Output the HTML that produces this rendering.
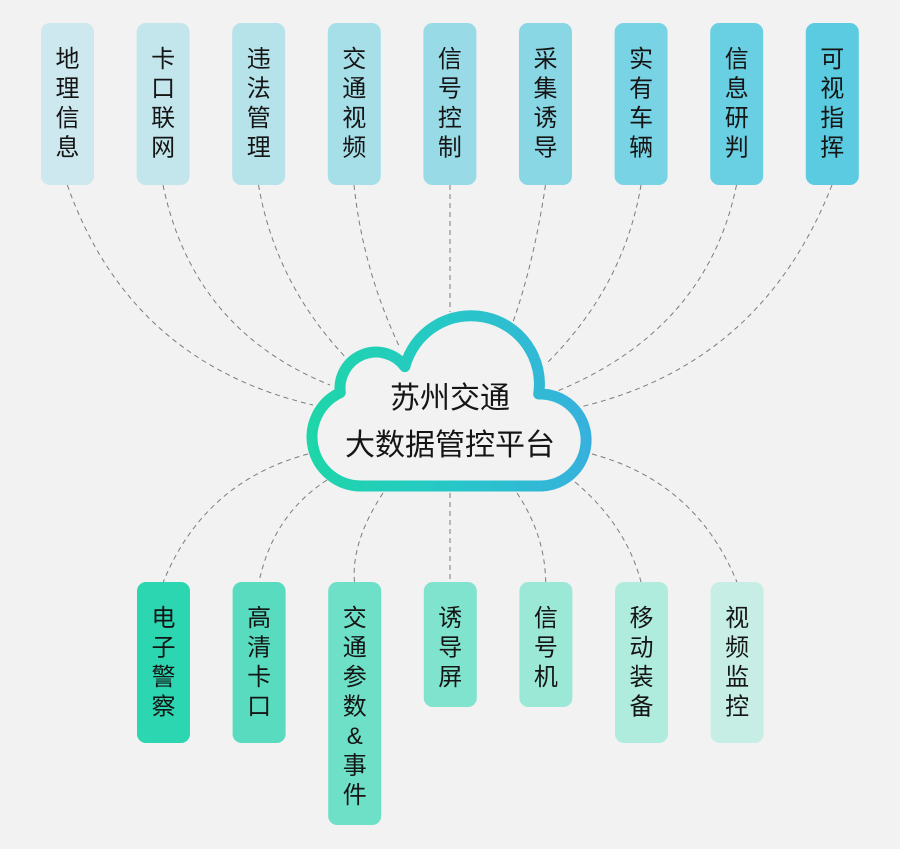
<!DOCTYPE html>
<html>
<head>
<meta charset="utf-8">
<style>
  html, body { margin: 0; padding: 0; background: #f2f2f2; }
  body { width: 900px; height: 849px; overflow: hidden; }
  svg { display: block; }
  .t { font-family: "Liberation Sans", "Noto Sans CJK SC", sans-serif; font-size: 24px; fill: #151515; text-anchor: middle; }
  .c { font-family: "Liberation Sans", "Noto Sans CJK SC", sans-serif; font-size: 30px; fill: #151515; text-anchor: middle; }
  .ln { fill: none; stroke: #7c7c7c; stroke-width: 1; stroke-dasharray: 5 4; }
</style>
</head>
<body>
<svg width="900" height="849" viewBox="0 0 900 849" xmlns="http://www.w3.org/2000/svg">
  <defs>
    <linearGradient id="cg" gradientUnits="userSpaceOnUse" x1="307" y1="0" x2="595" y2="0">
      <stop offset="0" stop-color="#1dd6a8"/>
      <stop offset="0.5" stop-color="#27c7c8"/>
      <stop offset="1" stop-color="#37b0de"/>
    </linearGradient>
  </defs>
  <rect x="0" y="0" width="900" height="849" fill="#f2f2f2"/>

  <!-- connectors top -->
  <path class="ln" d="M67.3,185 Q130,362 313,405"/>
  <path class="ln" d="M163,185 Q193,330 330,385"/>
  <path class="ln" d="M258.5,185 Q276,286 350,362"/>
  <path class="ln" d="M354,185 Q363,270 400,348"/>
  <path class="ln" d="M450,185 L450,312"/>
  <path class="ln" d="M545.5,185 Q534,262 513,322"/>
  <path class="ln" d="M641,185 Q624,286 548,362"/>
  <path class="ln" d="M736.5,185 Q707,330 555,392"/>
  <path class="ln" d="M832,185 Q762,364 580,407"/>

  <!-- connectors bottom -->
  <path class="ln" d="M308,454 Q204,482 163.3,582"/>
  <path class="ln" d="M327,480 Q273,515 259,582"/>
  <path class="ln" d="M383,493 Q351,542 354.5,582"/>
  <path class="ln" d="M450,493 L450,582"/>
  <path class="ln" d="M517,493 Q545,535 545.7,582"/>
  <path class="ln" d="M575,482 Q626,525 641,582"/>
  <path class="ln" d="M592,454 Q696,482 736.9,582"/>

  <!-- cloud -->
  <path d="M361,486 A49,49 0 0 1 340.3,392.6 A36,36 0 0 1 404.9,366.6 A68.4,68.4 0 0 1 538.7,394 A46,46 0 1 1 541.5,486 Z"
        fill="#f2f2f2" stroke="url(#cg)" stroke-width="11" stroke-linejoin="round"/>
  <text class="c" x="450" y="408">苏州交通</text>
  <text class="c" x="450" y="455">大数据管控平台</text>

  <!-- top boxes -->
  <g>
    <rect x="41" y="23" width="53" height="162" rx="9" fill="#cde8ee"/>
    <text class="t" x="67.5" y="67">地</text><text class="t" x="67.5" y="96.5">理</text><text class="t" x="67.5" y="126">信</text><text class="t" x="67.5" y="155.5">息</text>

    <rect x="136.6" y="23" width="53" height="162" rx="9" fill="#c3e6ed"/>
    <text class="t" x="163.1" y="67">卡</text><text class="t" x="163.1" y="96.5">口</text><text class="t" x="163.1" y="126">联</text><text class="t" x="163.1" y="155.5">网</text>

    <rect x="232.2" y="23" width="53" height="162" rx="9" fill="#b6e2ea"/>
    <text class="t" x="258.7" y="67">违</text><text class="t" x="258.7" y="96.5">法</text><text class="t" x="258.7" y="126">管</text><text class="t" x="258.7" y="155.5">理</text>

    <rect x="327.8" y="23" width="53" height="162" rx="9" fill="#a7dfe9"/>
    <text class="t" x="354.3" y="67">交</text><text class="t" x="354.3" y="96.5">通</text><text class="t" x="354.3" y="126">视</text><text class="t" x="354.3" y="155.5">频</text>

    <rect x="423.4" y="23" width="53" height="162" rx="9" fill="#98dbe7"/>
    <text class="t" x="449.9" y="67">信</text><text class="t" x="449.9" y="96.5">号</text><text class="t" x="449.9" y="126">控</text><text class="t" x="449.9" y="155.5">制</text>

    <rect x="519" y="23" width="53" height="162" rx="9" fill="#89d7e5"/>
    <text class="t" x="545.5" y="67">采</text><text class="t" x="545.5" y="96.5">集</text><text class="t" x="545.5" y="126">诱</text><text class="t" x="545.5" y="155.5">导</text>

    <rect x="614.6" y="23" width="53" height="162" rx="9" fill="#78d3e4"/>
    <text class="t" x="641.1" y="67">实</text><text class="t" x="641.1" y="96.5">有</text><text class="t" x="641.1" y="126">车</text><text class="t" x="641.1" y="155.5">辆</text>

    <rect x="710.2" y="23" width="53" height="162" rx="9" fill="#69cfe2"/>
    <text class="t" x="736.7" y="67">信</text><text class="t" x="736.7" y="96.5">息</text><text class="t" x="736.7" y="126">研</text><text class="t" x="736.7" y="155.5">判</text>

    <rect x="805.8" y="23" width="53" height="162" rx="9" fill="#5acbe0"/>
    <text class="t" x="832.3" y="67">可</text><text class="t" x="832.3" y="96.5">视</text><text class="t" x="832.3" y="126">指</text><text class="t" x="832.3" y="155.5">挥</text>
  </g>

  <!-- bottom boxes -->
  <g>
    <rect x="137" y="582" width="53" height="161" rx="9" fill="#2bd6b0"/>
    <text class="t" x="163.5" y="626">电</text><text class="t" x="163.5" y="655.5">子</text><text class="t" x="163.5" y="685">警</text><text class="t" x="163.5" y="714.5">察</text>

    <rect x="232.6" y="582" width="53" height="161" rx="9" fill="#58dbbf"/>
    <text class="t" x="259.1" y="626">高</text><text class="t" x="259.1" y="655.5">清</text><text class="t" x="259.1" y="685">卡</text><text class="t" x="259.1" y="714.5">口</text>

    <rect x="328.2" y="582" width="53" height="243" rx="9" fill="#6de0c7"/>
    <text class="t" x="354.7" y="626">交</text><text class="t" x="354.7" y="655.5">通</text><text class="t" x="354.7" y="685">参</text><text class="t" x="354.7" y="714.5">数</text><text class="t" x="354.7" y="744">&amp;</text><text class="t" x="354.7" y="773.5">事</text><text class="t" x="354.7" y="803">件</text>

    <rect x="423.8" y="582" width="53" height="125" rx="9" fill="#80e3cd"/>
    <text class="t" x="450.3" y="626">诱</text><text class="t" x="450.3" y="655.5">导</text><text class="t" x="450.3" y="685">屏</text>

    <rect x="519.4" y="582" width="53" height="125" rx="9" fill="#9be8d7"/>
    <text class="t" x="545.9" y="626">信</text><text class="t" x="545.9" y="655.5">号</text><text class="t" x="545.9" y="685">机</text>

    <rect x="615" y="582" width="53" height="161" rx="9" fill="#b0ecde"/>
    <text class="t" x="641.5" y="626">移</text><text class="t" x="641.5" y="655.5">动</text><text class="t" x="641.5" y="685">装</text><text class="t" x="641.5" y="714.5">备</text>

    <rect x="710.6" y="582" width="53" height="161" rx="9" fill="#c6eee5"/>
    <text class="t" x="737.1" y="626">视</text><text class="t" x="737.1" y="655.5">频</text><text class="t" x="737.1" y="685">监</text><text class="t" x="737.1" y="714.5">控</text>
  </g>
</svg>
</body>
</html>
